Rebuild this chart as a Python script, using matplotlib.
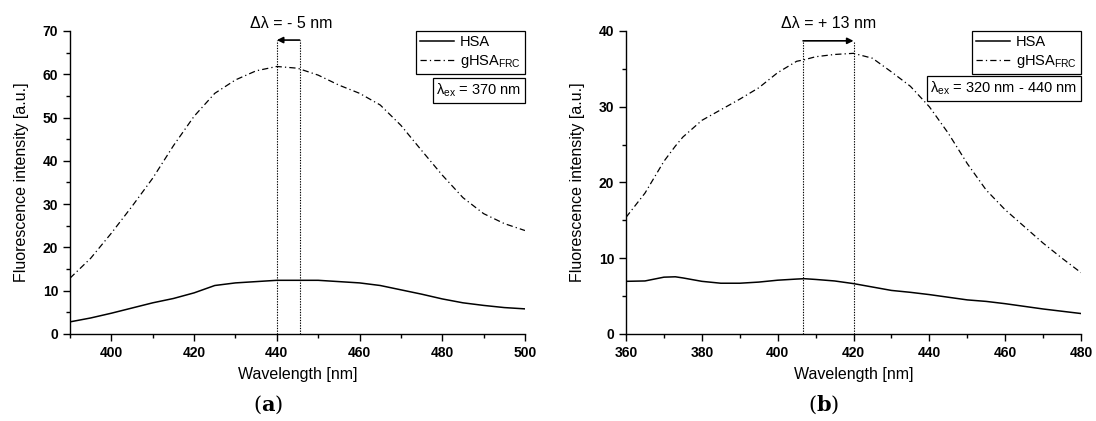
import matplotlib
matplotlib.use('Agg')
import matplotlib.pyplot as plt
from matplotlib.offsetbox import AnchoredText

plt.rcParams['font.family'] = ['Liberation Sans', 'DejaVu Sans']
plt.rcParams['mathtext.fontset'] = 'custom'
plt.rcParams['mathtext.rm'] = 'Liberation Sans'
plt.rcParams['mathtext.it'] = 'Liberation Sans:italic'
plt.rcParams['mathtext.bf'] = 'Liberation Sans:bold'

# (a) excitation 370 nm
wl_a = [390, 395, 400, 405, 410, 415, 420, 425, 430, 435, 440, 445, 450,
        455, 460, 465, 470, 475, 480, 485, 490, 495, 500]
hsa_a = [2.8, 3.7, 4.8, 6.0, 7.2, 8.2, 9.5, 11.2, 11.8, 12.1, 12.4, 12.4, 12.4,
         12.1, 11.8, 11.2, 10.2, 9.2, 8.1, 7.2, 6.6, 6.1, 5.8]
ghsa_a = [12.9, 17.5, 23.3, 29.5, 36.0, 43.5, 50.3, 55.6, 58.7, 60.8, 61.8, 61.4, 59.8,
          57.5, 55.6, 52.9, 48.2, 42.4, 36.7, 31.5, 27.8, 25.5, 23.9]
peaks_a = [445.5, 440.0]

# (b) excitation 320 nm - 440 nm
wl_b = [360, 365, 370, 373, 375, 380, 385, 390, 395, 400, 405, 407, 410, 415, 420,
        425, 430, 435, 440, 445, 450, 455, 460, 465, 470, 475, 480]
hsa_b = [6.95, 7.0, 7.5, 7.55, 7.4, 6.95, 6.7, 6.7, 6.85, 7.1, 7.25, 7.3, 7.2, 7.0, 6.65,
         6.2, 5.75, 5.5, 5.2, 4.85, 4.5, 4.3, 4.0, 3.65, 3.3, 3.0, 2.7]
ghsa_b = [15.4, 18.6, 22.8, 24.8, 26.0, 28.2, 29.6, 31.0, 32.5, 34.5, 36.0, 36.2, 36.6, 36.9, 37.05,
          36.4, 34.6, 32.7, 30.0, 26.5, 22.5, 19.0, 16.4, 14.2, 12.0, 10.0, 8.1]
peaks_b = [406.7, 420.0]

panels = [
    dict(x=wl_a, hsa=hsa_a, ghsa=ghsa_a, peaks=peaks_a, xlim=(390, 500), ylim=(0, 70),
         xticks=range(400, 501, 20), yticks=range(0, 71, 10), xminor=range(390, 501, 10),
         yminor=range(5, 70, 10), arrow_y=67.9, shift='Δλ = - 5 nm', shift_x=443.4,
         ex=r'λ$_{\mathrm{ex}}$ = 370 nm', ex_y=0.845, caption='a',
         rect=[0.0639, 0.2067, 0.4151, 0.7197]),
    dict(x=wl_b, hsa=hsa_b, ghsa=ghsa_b, peaks=peaks_b, xlim=(360, 480), ylim=(0, 40),
         xticks=range(360, 481, 20), yticks=range(0, 41, 10), xminor=range(370, 481, 20),
         yminor=range(5, 40, 10), arrow_y=38.7, shift='Δλ = + 13 nm', shift_x=413.3,
         ex=r'λ$_{\mathrm{ex}}$ = 320 nm - 440 nm', ex_y=0.851, caption='b',
         rect=[0.5712, 0.2067, 0.4151, 0.7197]),
]

fig = plt.figure(figsize=(10.96, 4.21), dpi=100)

for p in panels:
    ax = fig.add_axes(p['rect'])
    ax.plot(p['x'], p['hsa'], color='k', lw=1.1, label='HSA')
    ax.plot(p['x'], p['ghsa'], color='k', lw=0.9, dashes=(5, 2.5, 1, 2.5),
            label=r'gHSA$_{\mathrm{FRC}}$')

    # peak markers and shift arrow
    for xp in p['peaks']:
        ax.plot([xp, xp], [0, p['arrow_y']], color='k', lw=0.8, dashes=(1.2, 1.2))
    ax.annotate('', xy=(p['peaks'][1], p['arrow_y']), xytext=(p['peaks'][0], p['arrow_y']),
                arrowprops=dict(arrowstyle='-|>', lw=1.2, color='k', mutation_scale=9,
                                shrinkA=0, shrinkB=0))
    ax.text(p['shift_x'], 1.026, p['shift'], transform=ax.get_xaxis_transform(),
            ha='center', va='center', fontsize=11.5)

    ax.set_xlim(*p['xlim'])
    ax.set_ylim(*p['ylim'])
    ax.set_xticks(list(p['xticks']))
    ax.set_yticks(list(p['yticks']))
    ax.set_xticks(list(p['xminor']), minor=True)
    ax.set_yticks(list(p['yminor']), minor=True)
    ax.tick_params(which='major', direction='out', length=5, width=1, labelsize=10, pad=3.5)
    ax.tick_params(which='minor', direction='out', length=3, width=1)
    for lab in ax.get_xticklabels() + ax.get_yticklabels():
        lab.set_fontweight('bold')
    for side in ['top', 'right']:
        ax.spines[side].set_visible(False)
    for side in ['left', 'bottom']:
        ax.spines[side].set_linewidth(1.0)

    ax.set_xlabel('Wavelength [nm]', fontsize=11.5, labelpad=5)
    ax.set_ylabel('Fluorescence intensity [a.u.]', fontsize=11.5, labelpad=10)

    leg = ax.legend(loc='upper right', bbox_to_anchor=(1.0, 1.0), borderaxespad=0,
                    fontsize=10.5, handlelength=2.3, fancybox=False, framealpha=1,
                    edgecolor='k', borderpad=0.3, labelspacing=0.25, handletextpad=0.4)
    leg.get_frame().set_linewidth(0.9)

    at = AnchoredText(p['ex'], loc='upper right', bbox_to_anchor=(1.0, p['ex_y']),
                      bbox_transform=ax.transAxes, borderpad=0, frameon=True,
                      prop=dict(size=10.5), pad=0.25)
    at.patch.set_boxstyle('square', pad=0)
    at.patch.set_edgecolor('k')
    at.patch.set_linewidth(0.9)
    ax.add_artist(at)

    fig.text(p['rect'][0] + p['rect'][2] * 0.435, 0.038,
             r'($\mathbf{' + p['caption'] + '}$)', ha='center', va='center',
             fontsize=15, family='DejaVu Serif', math_fontfamily='dejavuserif')

fig.savefig('out.png', dpi=100)
